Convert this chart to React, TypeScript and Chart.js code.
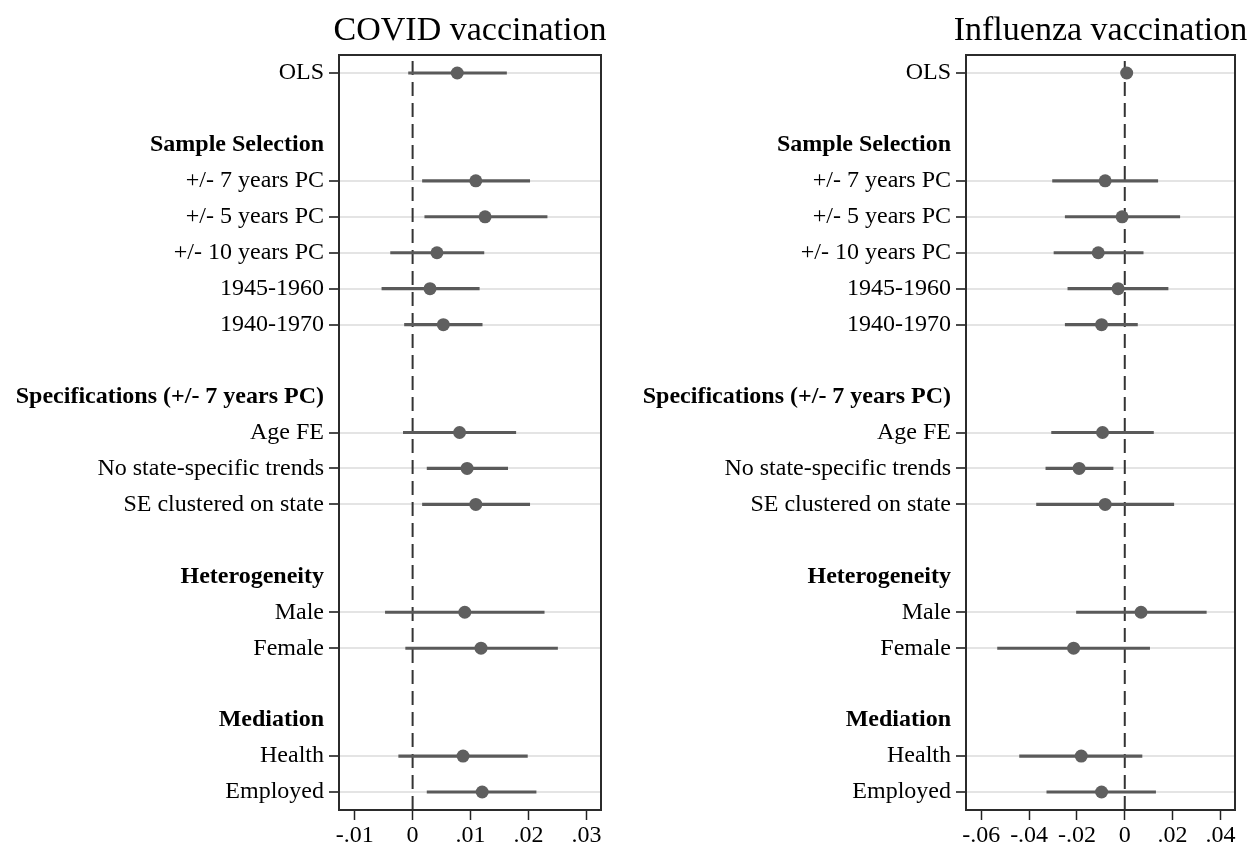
import React, { useEffect, useRef } from "react";
import { Chart, registerables } from "chart.js";

Chart.register(...registerables);

const FONT = "'Liberation Serif', 'Times New Roman', Times, serif";

// Row layout shared by both panels (top to bottom)
const rowLabels = [
  "OLS",
  "",
  "Sample Selection",
  "+/- 7 years PC",
  "+/- 5 years PC",
  "+/- 10 years PC",
  "1945-1960",
  "1940-1970",
  "",
  "Specifications (+/- 7 years PC)",
  "Age FE",
  "No state-specific trends",
  "SE clustered on state",
  "",
  "Heterogeneity",
  "Male",
  "Female",
  "",
  "Mediation",
  "Health",
  "Employed",
];
const headerRows = [2, 9, 14, 18];
const dataRows = [0, 3, 4, 5, 6, 7, 10, 11, 12, 15, 16, 19, 20];

// COVID vaccination
const covidEst = [0.0077, 0.0109, 0.0125, 0.0042, 0.003, 0.0053, 0.0081, 0.0094, 0.0109, 0.009, 0.0118, 0.0087, 0.012];
const covidLo = [-0.0007, 0.0017, 0.0021, -0.0038, -0.0053, -0.0014, -0.0016, 0.0025, 0.0017, -0.0047, -0.0012, -0.0024, 0.0025];
const covidHi = [0.0162, 0.0202, 0.0232, 0.0123, 0.0115, 0.012, 0.0178, 0.0164, 0.0202, 0.0227, 0.025, 0.0198, 0.0213];
const covidTicks = [-0.01, 0, 0.01, 0.02, 0.03];

// Influenza vaccination
const fluEst = [0.0008, -0.0082, -0.0011, -0.0111, -0.0028, -0.0097, -0.0093, -0.0191, -0.0082, 0.0068, -0.0214, -0.0182, -0.0097];
const fluLo = [0.0002, -0.0302, -0.0249, -0.0296, -0.0238, -0.0249, -0.0306, -0.033, -0.0369, -0.0202, -0.0532, -0.044, -0.0326];
const fluHi = [0.0014, 0.0138, 0.023, 0.0077, 0.0181, 0.0053, 0.012, -0.0049, 0.0205, 0.0341, 0.0104, 0.0072, 0.0129];
const fluTicks = [-0.06, -0.04, -0.02, 0, 0.02, 0.04];

function fmt(v: number): string {
  if (Math.abs(v) < 1e-9) return "0";
  const s = Math.abs(v).toFixed(2).replace(/^0/, "");
  return (v < 0 ? "-" : "") + s;
}

type PanelProps = {
  title: string;
  est: number[];
  lo: number[];
  hi: number[];
  xMin: number;
  xMax: number;
  xTicks: number[];
  left: number;
  width: number;
  axisWidth: number;
  padRight: number;
};

const HEIGHT = 845;

function Panel(p: PanelProps) {
  const ref = useRef<HTMLCanvasElement | null>(null);
  useEffect(() => {
    const canvas = ref.current;
    if (!canvas) return;
    const isData = (v: number) => dataRows.indexOf(Math.round(v)) >= 0;
    const isHeader = (v: number) => headerRows.indexOf(Math.round(v)) >= 0;

    const zeroLine = {
      id: "zeroLine",
      beforeDatasetsDraw(chart: any) {
        const { ctx, chartArea } = chart;
        const x = chart.scales.x.getPixelForValue(0);
        ctx.save();
        ctx.strokeStyle = "#333333";
        ctx.lineWidth = 2;
        ctx.setLineDash([14, 7]);
        ctx.beginPath();
        ctx.moveTo(x, chartArea.top + 6);
        ctx.lineTo(x, chartArea.bottom);
        ctx.stroke();
        ctx.restore();
      },
    };
    const frameAndTitle = {
      id: "frameAndTitle",
      afterDraw(chart: any) {
        const { ctx, chartArea } = chart;
        ctx.save();
        ctx.strokeStyle = "#2b2b2b";
        ctx.lineWidth = 2;
        ctx.strokeRect(chartArea.left, chartArea.top, chartArea.right - chartArea.left, chartArea.bottom - chartArea.top);
        ctx.fillStyle = "#000";
        ctx.font = `normal 34px ${FONT}`;
        ctx.textAlign = "center";
        ctx.textBaseline = "alphabetic";
        ctx.fillText(p.title, (chartArea.left + chartArea.right) / 2, chartArea.top - 15);
        ctx.restore();
      },
    };

    const chart = new Chart(canvas, {
      type: "bar",
      data: {
        datasets: [
          {
            type: "scatter",
            data: dataRows.map((r, i) => ({ x: p.est[i], y: r })),
            backgroundColor: "#5f5f5f",
            borderColor: "#5f5f5f",
            borderWidth: 0,
            pointRadius: 6.5,
            pointHoverRadius: 6.5,
            xAxisID: "x",
            yAxisID: "y",
          } as any,
          {
            type: "bar",
            indexAxis: "y",
            data: dataRows.map((r, i) => ({ x: [p.lo[i], p.hi[i]], y: r })),
            backgroundColor: "#5a5a5a",
            borderWidth: 0,
            barThickness: 2.5,
            xAxisID: "x",
            yAxisID: "y",
          } as any,
        ],
      },
      options: {
        indexAxis: "y",
        responsive: false,
        animation: false,
        layout: { padding: { left: 0, right: p.padRight, top: 55, bottom: 0 } },
        plugins: {
          legend: { display: false },
          tooltip: { enabled: false },
          title: { display: false },
        },
        scales: {
          x: {
            type: "linear",
            position: "bottom",
            offset: false,
            min: p.xMin,
            max: p.xMax,
            afterBuildTicks: (scale: any) => {
              scale.ticks = p.xTicks.map((v) => ({ value: v }));
            },
            afterFit: (scale: any) => {
              scale.height = 35;
            },
            border: { display: false },
            grid: {
              display: true,
              offset: false,
              drawOnChartArea: false,
              drawTicks: true,
              tickLength: 10,
              tickColor: "#222",
              tickWidth: 1.5,
            },
            ticks: {
              color: "#000",
              padding: 1,
              maxRotation: 0,
              autoSkip: false,
              font: { family: FONT, size: 24 },
              callback: (v: any) => fmt(Number(v)),
            },
          },
          y: {
            type: "linear",
            position: "left",
            reverse: true,
            offset: false,
            min: -0.5,
            max: 20.5,
            afterBuildTicks: (scale: any) => {
              scale.ticks = rowLabels.map((_, i) => ({ value: i }));
            },
            afterFit: (scale: any) => {
              scale.width = p.axisWidth;
            },
            border: { display: false },
            grid: {
              display: true,
              offset: false,
              drawOnChartArea: true,
              drawTicks: true,
              tickLength: 10,
              lineWidth: 2,
              tickWidth: 1.5,
              color: (ctx: any) => (ctx.tick && isData(ctx.tick.value) ? "#e4e4e4" : "rgba(0,0,0,0)"),
              tickColor: (ctx: any) => (ctx.tick && isData(ctx.tick.value) ? "#111" : "rgba(0,0,0,0)"),
            },
            ticks: {
              color: "#000",
              padding: 5,
              autoSkip: false,
              font: (ctx: any) => ({
                family: FONT,
                size: 24,
                weight: ctx.tick && isHeader(ctx.tick.value) ? "bold" : "normal",
              }),
              callback: (v: any) => rowLabels[Math.round(Number(v))] ?? "",
            },
          },
        },
      } as any,
      plugins: [zeroLine, frameAndTitle],
    });
    return () => chart.destroy();
  }, []);

  return (
    <canvas
      ref={ref}
      width={p.width}
      height={HEIGHT}
      style={{ position: "absolute", left: p.left, top: 0, width: p.width, height: HEIGHT }}
    />
  );
}

export default function App() {
  return (
    <div style={{ position: "absolute", left: 0, top: 0, width: 1249, height: HEIGHT, background: "#fff", overflow: "hidden" }}>
      <Panel
        title="COVID vaccination"
        est={covidEst}
        lo={covidLo}
        hi={covidHi}
        xMin={-0.0127}
        xMax={0.0325}
        xTicks={covidTicks}
        left={0}
        width={625}
        axisWidth={339}
        padRight={24}
      />
      <Panel
        title="Influenza vaccination"
        est={fluEst}
        lo={fluLo}
        hi={fluHi}
        xMin={-0.0664}
        xMax={0.0461}
        xTicks={fluTicks}
        left={625}
        width={624}
        axisWidth={341}
        padRight={14}
      />
    </div>
  );
}
